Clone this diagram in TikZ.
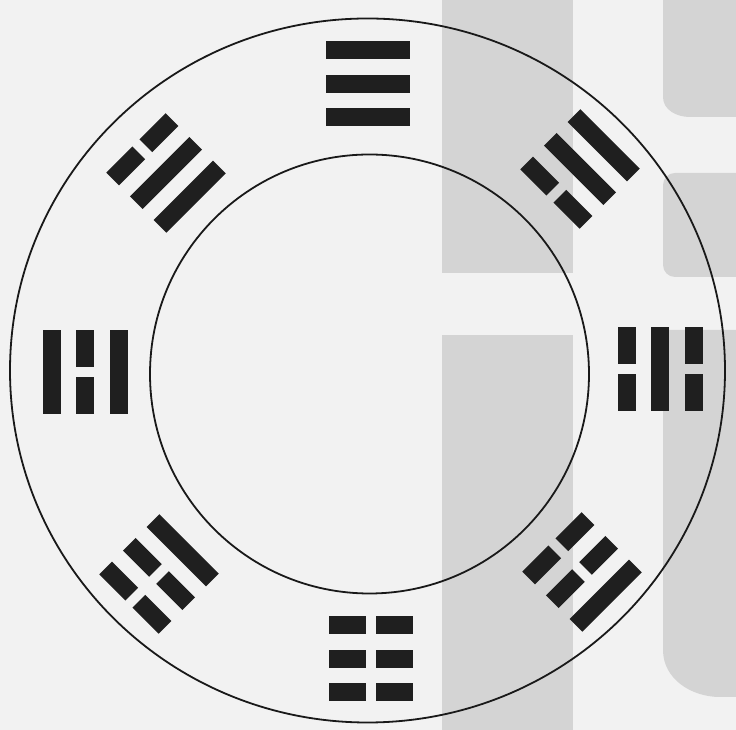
\documentclass[tikz,border=0pt]{standalone}
\begin{document}
\tikzset{
  barfill/.style={fill=black!88},
  ring/.style={draw=black!90,line width=1.8pt},
  bleed/.style={fill=black!17}
}
\newcommand\tline[2]{%
  \ifnum#2=1
    \fill[barfill] (-42,{#1*33.5-9}) rectangle (42,{#1*33.5+9});
  \else
    \fill[barfill] (-42,{#1*33.5-9}) rectangle (-5,{#1*33.5+9});
    \fill[barfill] (5,{#1*33.5-9}) rectangle (42,{#1*33.5+9});
  \fi}
\newcommand\trigram[6]{%
  \begin{scope}[shift={(#1,#2)},rotate=#3]
    \tline{-1}{#4}\tline{0}{#5}\tline{1}{#6}
  \end{scope}}
\begin{tikzpicture}[x=1pt,y=1pt]
  \useasboundingbox (0,0) rectangle (736,730);
  \fill[black!5] (0,0) rectangle (736,730);
  % bleed-through grey areas of the scanned page
  \fill[bleed] (442,457) rectangle (573,730);
  \fill[bleed] (442,0) rectangle (573,395);
  \fill[bleed] (736,730) -- (663,730) -- (663,633) to[out=-90,in=180] (690,613) -- (736,613) -- cycle;
  \fill[bleed,rounded corners=12pt] (736,453) -- (663,453) -- (663,557) -- (736,557);
  \fill[bleed] (736,400) -- (663,400) -- (663,80) to[out=-90,in=180] (720,33) -- (736,33) -- cycle;
  % rings
  \draw[ring] (367.5,359.5) ellipse [x radius=357.5, y radius=352];
  \draw[ring] (369.5,356) circle [radius=219.5];
  % trigrams: lines listed inner, middle, outer (1 = solid, 0 = broken)
  \trigram{368}{646}{0}{1}{1}{1}
  \trigram{370.5}{71}{180}{0}{0}{0}
  \trigram{85}{358}{90}{1}{0}{1}
  \trigram{660}{361}{-90}{0}{1}{0}
  \trigram{166}{557}{45}{1}{1}{0}
  \trigram{580}{561}{-45}{0}{1}{1}
  \trigram{159}{156}{135}{1}{0}{0}
  \trigram{582}{158}{-135}{0}{0}{1}
\end{tikzpicture}
\end{document}
